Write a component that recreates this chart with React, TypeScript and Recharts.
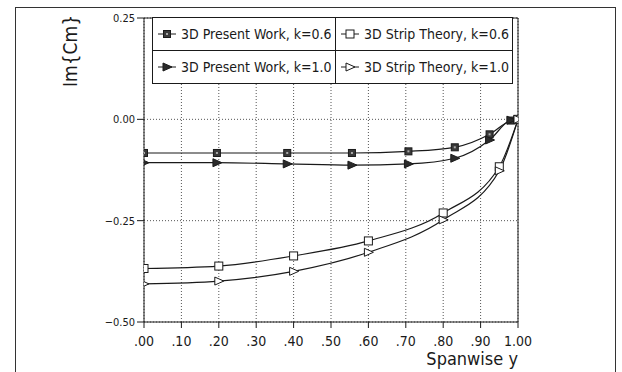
import React from 'react';
import { LineChart, Line, XAxis, YAxis, CartesianGrid, ReferenceLine } from 'recharts';

// spanwise stations
const presentX = [0, 0.195, 0.383, 0.556, 0.707, 0.831, 0.924, 0.981, 1.0];
const stripX = [0, 0.2, 0.4, 0.6, 0.8, 0.95, 1.0];

// Im{Cm} values
const presentK06 = [-0.083, -0.083, -0.083, -0.083, -0.079, -0.069, -0.037, -0.003, 0];
const presentK10 = [-0.107, -0.107, -0.110, -0.113, -0.110, -0.096, -0.051, -0.002, 0];
const stripK06 = [-0.368, -0.362, -0.337, -0.300, -0.231, -0.117, 0];
const stripK10 = [-0.406, -0.399, -0.375, -0.328, -0.248, -0.127, 0];

const xTicks = [0, 0.1, 0.2, 0.3, 0.4, 0.5, 0.6, 0.7, 0.8, 0.9, 1.0];
const xTickLabels = ['.00', '.10', '.20', '.30', '.40', '.50', '.60', '.70', '.80', '.90', '1.00'];
const yTicks = [-0.5, -0.25, 0, 0.25];
const yTickLabels = ['\u22120.50', '\u22120.25', '0.00', '0.25'];

const seriesNames = [
  '3D Present Work, k=0.6',
  '3D Strip Theory, k=0.6',
  '3D Present Work, k=1.0',
  '3D Strip Theory, k=1.0',
];

const toRows = (xs: number[], ys: number[]) => xs.map((x, i) => ({ x, y: ys[i] }));

const FONT = "'DejaVu Sans Condensed', 'Liberation Sans', sans-serif";
const INK = '#1a1a1a';

type Kind = 'sqFilled' | 'sqOpen' | 'triFilled' | 'triOpen';

const Marker = ({ kind, cx, cy }: { kind: Kind; cx: number; cy: number }) => {
  if (kind === 'sqFilled') {
    return (
      <g>
        <rect x={cx - 3.5} y={cy - 3.5} width={7} height={7} fill="#3a3a3a" stroke={INK} strokeWidth={1} />
        <rect x={cx - 1} y={cy - 1} width={2} height={2} fill="#aaa" />
      </g>
    );
  }
  if (kind === 'sqOpen') {
    return <rect x={cx - 4} y={cy - 4} width={8} height={8} fill="#fff" stroke={INK} strokeWidth={1} />;
  }
  const pts = `${cx - 4},${cy - 4} ${cx + 5},${cy} ${cx - 4},${cy + 4}`;
  return (
    <polygon
      points={pts}
      fill={kind === 'triFilled' ? '#2a2a2a' : '#fff'}
      stroke={INK}
      strokeWidth={1}
    />
  );
};

const dotFor = (kind: Kind) => (p: any) => (
  <Marker key={`${kind}-${p.index}`} kind={kind} cx={p.cx} cy={p.cy} />
);

const legendKinds: Kind[] = ['sqFilled', 'sqOpen', 'triFilled', 'triOpen'];

const LegendBox = () => (
  <div
    style={{
      position: 'absolute',
      left: 152,
      top: 17,
      display: 'grid',
      gridTemplateColumns: '183px 176px',
      gridTemplateRows: '33px 32px',
      border: `1px solid ${INK}`,
      background: '#fff',
      fontFamily: FONT,
      fontSize: 14,
      color: INK,
    }}
  >
    {seriesNames.map((name, i) => (
      <div
        key={name}
        style={{
          display: 'flex',
          alignItems: 'center',
          paddingLeft: 4,
          borderRight: i % 2 === 0 ? `1px solid ${INK}` : 'none',
          borderBottom: i < 2 ? `1px solid ${INK}` : 'none',
          whiteSpace: 'nowrap',
        }}
      >
        <svg width={20} height={12} style={{ marginRight: 4 }}>
          <line x1={1} y1={6} x2={19} y2={6} stroke={INK} strokeWidth={1} />
          <Marker kind={legendKinds[i]} cx={10} cy={6} />
        </svg>
        {name}
      </div>
    ))}
  </div>
);

export default function App() {
  const lines = [
    { name: seriesNames[0], data: toRows(presentX, presentK06), kind: 'sqFilled' as Kind },
    { name: seriesNames[2], data: toRows(presentX, presentK10), kind: 'triFilled' as Kind },
    { name: seriesNames[1], data: toRows(stripX, stripK06), kind: 'sqOpen' as Kind },
    { name: seriesNames[3], data: toRows(stripX, stripK10), kind: 'triOpen' as Kind },
  ];

  return (
    <div style={{ position: 'absolute', left: 0, top: 0, width: 622, height: 372, background: '#fff', overflow: 'hidden' }}>
      {/* outer figure frame */}
      <div
        style={{
          position: 'absolute',
          left: 15,
          top: 7,
          width: 599,
          height: 400,
          border: '1px solid #333',
        }}
      />
      <div style={{ position: 'absolute', left: 0, top: 0 }}>
        <LineChart width={622} height={372} margin={{ top: 18, right: 104, bottom: 20, left: 84 }}>
          <CartesianGrid
            stroke="#555"
            strokeDasharray="1 2"
            verticalValues={xTicks}
            horizontalValues={yTicks}
          />
          <XAxis
            type="number"
            dataKey="x"
            domain={[0, 1]}
            ticks={xTicks}
            tickFormatter={(v: number, i: number) => xTickLabels[i]}
            stroke={INK}
            tickSize={6}
            tickMargin={8}
            height={30}
            tick={{ fill: INK, fontSize: 14, fontFamily: FONT }}
            allowDataOverflow
          />
          <YAxis
            type="number"
            domain={[-0.5, 0.25]}
            ticks={yTicks}
            tickFormatter={(v: number, i: number) => yTickLabels[i]}
            stroke={INK}
            tickSize={7}
            tickMargin={2}
            width={60}
            tick={{ fill: INK, fontSize: 11, fontFamily: FONT }}
          />
          <ReferenceLine y={0.25} stroke={INK} strokeWidth={1} />
          <ReferenceLine x={1} stroke={INK} strokeWidth={1} />
          {lines.map((l) => (
            <Line
              key={l.name}
              name={l.name}
              data={l.data}
              dataKey="y"
              type="monotone"
              stroke={INK}
              strokeWidth={1.2}
              dot={dotFor(l.kind)}
              activeDot={false}
              isAnimationActive={false}
            />
          ))}
        </LineChart>
      </div>
      <LegendBox />
      <div
        style={{
          position: 'absolute',
          right: 104,
          top: 349,
          fontFamily: FONT,
          fontSize: 18,
          lineHeight: '20px',
          color: INK,
          whiteSpace: 'nowrap',
        }}
      >
        Spanwise y
      </div>
      <div
        style={{
          position: 'absolute',
          left: 70,
          top: 51,
          transform: 'translate(-50%, -50%) rotate(-90deg)',
          fontFamily: FONT,
          fontSize: 19,
          color: INK,
          whiteSpace: 'nowrap',
        }}
      >
        Im{'{'}Cm{'}'}
      </div>
    </div>
  );
}
